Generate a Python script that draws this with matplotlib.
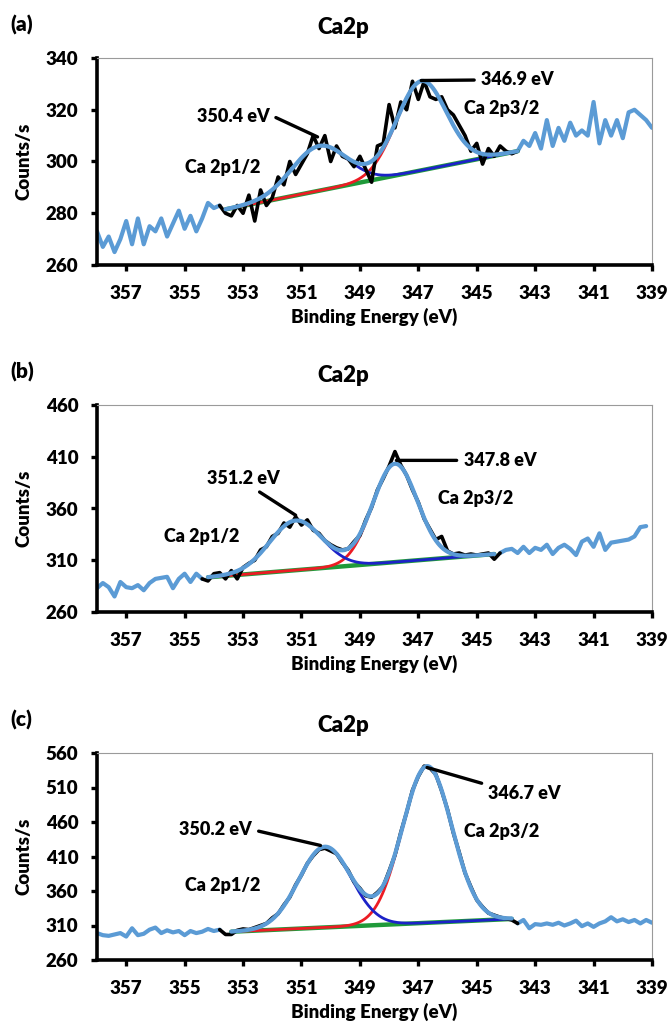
#!/usr/bin/env python
'''
Ca 2p XPS spectra with peak fits, three samples (a)-(c)
'''
import numpy as np
import matplotlib
matplotlib.use('Agg')
import matplotlib.pyplot as plt

# Constants
FIG_WIDTH = 6.7
FIG_HEIGHT = 10.25
DPI = 100

TICKFONT = 13.5
LABFONT = 13.5
ANNFONT = 13
TITFONT = 16
TAGFONT = 15
WEIGHT = 'heavy'

LBLUE = '#5b9bd5'
GREEN = '#1f9a3a'
RED = '#ec1c24'
DBLUE = '#1c22c8'

plt.rcParams['font.family'] = ['Lato', 'DejaVu Sans']
plt.rcParams['font.weight'] = WEIGHT
plt.rcParams['lines.solid_joinstyle'] = 'round'
plt.rcParams['lines.solid_capstyle'] = 'round'

# binding energy grid of the scans (eV)
be = np.linspace(358.0, 339.0, 96)

# raw counts/s
raw_a = [273, 267, 271, 265, 270, 277, 268, 278, 268, 275,
         273, 278, 271, 276, 281, 274, 279, 273, 278, 284,
         282, 283, 280, 279, 283, 280, 287, 277, 289, 283,
         286, 294, 291, 300, 295, 299, 303, 310, 305, 310,
         300, 306, 302, 301, 298, 302, 297, 292, 306, 307,
         322, 313, 323, 320, 331, 324, 331, 325, 324, 325,
         320, 318, 314, 310, 304, 307, 299, 305, 302, 306,
         304, 303, 304, 308, 306, 311, 305, 316, 306, 313,
         308, 315, 310, 312, 310, 323, 307, 316, 310, 316,
         309, 319, 320, 318, 316, 313]
raw_b = [283, 288, 284, 275, 289, 284, 283, 286, 281, 288,
         292, 293, 294, 283, 292, 297, 289, 297, 292, 290,
         297, 298, 292, 300, 292, 303, 307, 310, 320, 323,
         333, 336, 346, 342, 352, 344, 349, 339, 336, 329,
         325, 322, 320, 321, 328, 334, 349, 361, 378, 389,
         401, 415, 402, 392, 378, 366, 350, 340, 330, 333,
         319, 316, 317, 315, 316, 315, 316, 317, 311, 317,
         320, 321, 317, 323, 317, 322, 320, 325, 316, 322,
         325, 321, 315, 328, 331, 323, 336, 320, 327, 328,
         329, 330, 333, 342, 343, np.nan]
raw_c = [299, 296, 295, 297, 299, 294, 306, 296, 298, 304,
         307, 299, 303, 300, 302, 296, 302, 299, 301, 305,
         302, 304, 297, 297, 303, 305, 304, 307, 310, 313,
         321, 327, 340, 351, 369, 383, 400, 411, 420, 422,
         418, 414, 401, 390, 373, 364, 353, 351, 358, 367,
         389, 412, 445, 474, 506, 526, 541, 538, 529, 505,
         478, 444, 416, 386, 366, 347, 337, 328, 325, 322,
         320, 318, 313, 318, 306, 312, 311, 313, 311, 314,
         310, 313, 317, 309, 313, 308, 313, 316, 322, 316,
         319, 315, 318, 313, 318, 314]

# part of each scan that went into the fit (eV, high -> low)
win_a = (353.8, 343.6)
win_b = (354.4, 344.2)
win_c = (353.8, 343.6)

# linear background end points (eV, counts/s)
bg_a = [(353.6, 281.5), (343.6, 304.0)]
bg_b = [(354.2, 293.5), (344.4, 316.0)]
bg_c = [(353.4, 301.0), (343.8, 319.5)]

# fitted components: centre (eV), height above background, FWHM (eV)
p12_a = (350.4, 17.3, 2.2)
p32_a = (346.9, 34.5, 2.0)
p12_b = (351.2, 48.0, 2.1)
p32_b = (347.8, 95.0, 1.8)
p12_c = (350.2, 117.0, 2.1)
p32_c = (346.7, 227.0, 2.0)

# y axis ranges
yl_a = (260, 340, 20)
yl_b = (260, 460, 50)
yl_c = (260, 560, 50)


def gauss(x, pk):
    c, h, w = pk
    return h*np.exp(-4*np.log(2)*(x-c)**2/w**2)


def background(x, bg):
    (x0, y0), (x1, y1) = bg
    return y0 + (x0-x)*(y1-y0)/(x0-x1)


def draw_panel(ax, raw, win, bg, p12, p32, yl, ann):
    raw = np.asarray(raw, dtype=float)
    i0 = int(np.argmin(abs(be-win[0])))
    i1 = int(np.argmin(abs(be-win[1])))

    # raw scan outside the fit window
    ax.plot(be[:i0+1], raw[:i0+1], color=LBLUE, lw=3.0, zorder=2)
    ax.plot(be[i1:], raw[i1:], color=LBLUE, lw=3.0, zorder=2)

    xf = np.linspace(bg[0][0], bg[1][0], 300)
    base = background(xf, bg)
    c12 = gauss(xf, p12)
    c32 = gauss(xf, p32)
    ax.plot(xf, base, color=GREEN, lw=3.2, zorder=3)
    ax.plot(xf, base+c32, color=RED, lw=2.0, zorder=3)
    ax.plot(xf, base+c12, color=DBLUE, lw=2.0, zorder=3)
    ax.plot(be[i0:i1+1], raw[i0:i1+1], color='black', lw=2.6, zorder=4)
    ax.plot(xf, base+c12+c32, color=LBLUE, lw=3.0, zorder=5)

    ax.set_xlim(358, 339)
    ax.set_xticks(np.arange(357, 338, -2))
    ax.set_ylim(yl[0], yl[1])
    ax.set_yticks(np.arange(yl[0], yl[1]+1, yl[2]))

    for s in ['left', 'bottom']:
        ax.spines[s].set_linewidth(2.6)
        ax.spines[s].set_color('black')
    for s in ['top', 'right']:
        ax.spines[s].set_linewidth(0.8)
        ax.spines[s].set_color('#9a9a9a')
    ax.tick_params(axis='both', direction='out', length=4.5, width=2.4,
                   labelsize=TICKFONT, top=False, right=False)
    ax.tick_params(axis='y', pad=9)
    ax.tick_params(axis='x', pad=10)
    for lab in ax.get_xticklabels() + ax.get_yticklabels():
        lab.set_fontweight(WEIGHT)

    ax.set_xlabel('Binding Energy (eV)', fontsize=LABFONT, fontweight=WEIGHT, labelpad=4)
    ax.set_ylabel('Counts/s', fontsize=LABFONT, fontweight=WEIGHT)
    ax.yaxis.set_label_coords(-0.117, 0.5)

    # peak position labels
    for txt, xy, xyt, ha, rel in ann['pos']:
        ax.annotate(txt, xy=xy, xytext=xyt, ha=ha, va='center',
                    fontsize=ANNFONT, fontweight=WEIGHT, zorder=6,
                    arrowprops=dict(arrowstyle='-', lw=2.4, color='black',
                                    relpos=rel, shrinkA=3, shrinkB=0))
    for txt, xyt in ann['lines']:
        ax.text(xyt[0], xyt[1], txt, ha='center', va='center',
                fontsize=ANNFONT, fontweight=WEIGHT, zorder=6)


def main():
    fig = plt.figure(figsize=[FIG_WIDTH, FIG_HEIGHT], dpi=DPI)

    left, width = 97/670., 555/670.
    bottoms = [1-265/1025., 1-612/1025., 1-960/1025.]
    height = 207/1025.

    panels = [
        (raw_a, win_a, bg_a, p12_a, p32_a, yl_a,
         {'pos': [('346.9 eV', (346.9, 331.3), (344.85, 331.5), 'left', (0, 0.5)),
                  ('350.4 eV', (350.45, 309.5), (352.1, 317.5), 'right', (1, 0.6))],
          'lines': [('Ca 2p1/2', (353.7, 297.5)), ('Ca 2p3/2', (344.15, 320.6))]}),
        (raw_b, win_b, bg_b, p12_b, p32_b, yl_b,
         {'pos': [('347.8 eV', (347.75, 406.5), (345.45, 406.5), 'left', (0, 0.5)),
                  ('351.2 eV', (351.2, 353.5), (353.0, 389.0), 'center', (0.62, 0))],
          'lines': [('Ca 2p1/2', (354.4, 332.6)), ('Ca 2p3/2', (345.05, 369.7))]}),
        (raw_c, win_c, bg_c, p12_c, p32_c, yl_c,
         {'pos': [('346.7 eV', (346.7, 539.0), (344.6, 501.0), 'left', (0.0, 1.0)),
                  ('350.2 eV', (350.35, 426.0), (352.7, 449.0), 'right', (1, 0.5))],
          'lines': [('Ca 2p1/2', (353.7, 368.5)), ('Ca 2p3/2', (344.15, 445.7))]}),
    ]
    tags = ['(a)', '(b)', '(c)']
    tag_y = [25, 372, 720]
    tit_y = [28, 375, 725]

    for k, p in enumerate(panels):
        ax = fig.add_axes([left, bottoms[k], width, height])
        draw_panel(ax, *p)
        fig.text(10/670., 1-tag_y[k]/1025., tags[k], ha='left', va='center',
                 fontsize=TAGFONT, fontweight=WEIGHT)
        fig.text(343/670., 1-tit_y[k]/1025., 'Ca2p', ha='center', va='center',
                 fontsize=TITFONT, fontweight=WEIGHT)

    plt.savefig('out.png', dpi=DPI)
    plt.close('all')


if __name__ == "__main__":
    main()
